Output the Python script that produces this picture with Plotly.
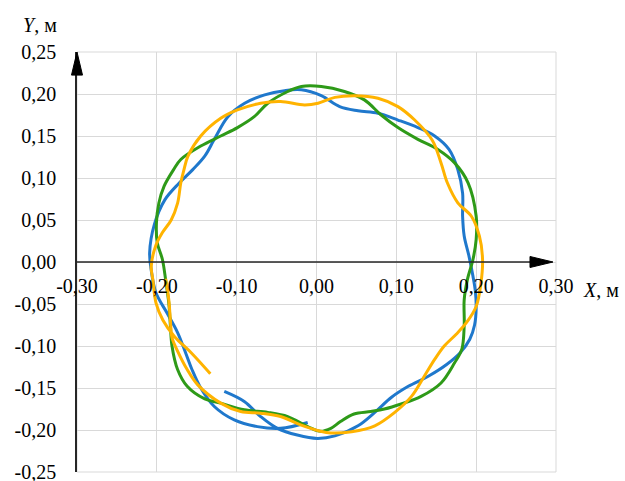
import plotly.graph_objects as go

# ---- data ----
blue_x = [-0.1155, -0.0905, -0.070, -0.049, -0.024, 0.001, 0.023, 0.052, 0.073, 0.094,
          0.115, 0.140, 0.163, 0.180, 0.192, 0.198, 0.200, 0.199, 0.196, 0.191,
          0.185, 0.183, 0.183, 0.177, 0.166, 0.148, 0.127, 0.102, 0.077, 0.052,
          0.029, 0.006, -0.019, -0.040, -0.065, -0.090, -0.111, -0.128, -0.140, -0.155,
          -0.172, -0.190, -0.203, -0.209, -0.207, -0.201, -0.187, -0.174, -0.164, -0.156,
          -0.145, -0.128, -0.103, -0.074, -0.045, -0.011]
blue_y = [-0.154, -0.166, -0.184, -0.198, -0.206, -0.210, -0.207, -0.195, -0.179, -0.161,
          -0.148, -0.136, -0.122, -0.108, -0.092, -0.075, -0.055, -0.035, -0.017, 0.007,
          0.031, 0.0545, 0.082, 0.110, 0.134, 0.150, 0.160, 0.169, 0.177, 0.180,
          0.185, 0.198, 0.205, 0.204, 0.199, 0.189, 0.173, 0.146, 0.126, 0.110,
          0.094, 0.074, 0.045, 0.011, -0.010, -0.037, -0.061, -0.084, -0.108, -0.128,
          -0.150, -0.172, -0.188, -0.196, -0.198, -0.191]

green_x = [-0.193, -0.189, -0.185, -0.183, -0.181, -0.174, -0.162, -0.140, -0.120, -0.0905,
           -0.061, -0.036, -0.011, 0.005, 0.018, 0.030, 0.047, 0.068, 0.085, 0.106,
           0.131, 0.156, 0.173, 0.182, 0.185, 0.185, 0.189, 0.196, 0.200, 0.200,
           0.190, 0.173, 0.152, 0.127, 0.102, 0.081, 0.060, 0.035, 0.006, -0.019,
           -0.036, -0.061, -0.078, -0.099, -0.120, -0.145, -0.170, -0.179, -0.191, -0.1975,
           -0.2005, -0.1995, -0.193]
green_y = [0.003, -0.021, -0.049, -0.076, -0.100, -0.128, -0.148, -0.163, -0.168, -0.176,
           -0.179, -0.184, -0.196, -0.2015, -0.198, -0.190, -0.181, -0.178, -0.175, -0.169,
           -0.160, -0.144, -0.120, -0.104, -0.076, -0.045, -0.021, 0.003, 0.027, 0.0545,
           0.094, 0.118, 0.134, 0.146, 0.160, 0.175, 0.193, 0.203, 0.209, 0.209,
           0.203, 0.189, 0.173, 0.160, 0.150, 0.138, 0.122, 0.110, 0.090, 0.070,
           0.0465, 0.023, 0.003]

orange_x = [-0.189, -0.185, -0.183, -0.181, -0.174, -0.162, -0.149, -0.120, -0.095, -0.070,
            -0.045, -0.020, 0.005, 0.018, 0.044, 0.073, 0.098, 0.119, 0.135, 0.148,
            0.160, 0.175, 0.188, 0.200, 0.206, 0.208, 0.204, 0.194, 0.177, 0.164,
            0.156, 0.145, 0.123, 0.102, 0.077, 0.048, 0.023, 0.002, -0.015, -0.045,
            -0.070, -0.099, -0.120, -0.145, -0.161, -0.166, -0.170, -0.174, -0.182, -0.193,
            -0.2015, -0.207, -0.205, -0.201, -0.1925, -0.178, -0.157, -0.133]
orange_y = [-0.020, -0.045, -0.070, -0.090, -0.106, -0.128, -0.146, -0.168, -0.178, -0.180,
            -0.184, -0.194, -0.2015, -0.2035, -0.202, -0.195, -0.179, -0.160, -0.136, -0.116,
            -0.100, -0.086, -0.072, -0.053, -0.025, 0.003, 0.031, 0.0545, 0.0705, 0.094,
            0.118, 0.145, 0.169, 0.185, 0.195, 0.198, 0.196, 0.189, 0.187, 0.191,
            0.189, 0.181, 0.171, 0.150, 0.126, 0.110, 0.094, 0.070, 0.050, 0.035,
            0.019, -0.005, -0.021, -0.049, -0.069, -0.0886, -0.108, -0.133]

x_ticks = [-0.30, -0.20, -0.10, 0.00, 0.10, 0.20, 0.30]
x_tick_text = ["-0,30", "-0,20", "-0,10", "0,00", "0,10", "0,20", "0,30"]
y_ticks = [0.25, 0.20, 0.15, 0.10, 0.05, 0.00, -0.05, -0.10, -0.15, -0.20, -0.25]
y_tick_text = ["0,25", "0,20", "0,15", "0,10", "0,05", "0,00", "-0,05", "-0,10", "-0,15", "-0,20", "-0,25"]

X_RANGE = [-0.30, 0.30]
Y_RANGE = [-0.25, 0.25]

FONT = "Liberation Serif, Times New Roman, serif"
AXIS_COLOR = "#262626"
GRID_COLOR = "#d9d9d9"

fig = go.Figure()
for xs, ys, col in [(blue_x, blue_y, "#1f78cc"),
                    (green_x, green_y, "#2e9a18"),
                    (orange_x, orange_y, "#ffb300")]:
    fig.add_trace(go.Scatter(x=xs, y=ys, mode="lines",
                             line=dict(color=col, width=3, shape="spline", smoothing=1.0),
                             hoverinfo="skip", showlegend=False))

# plot frame (top and right edges, light like the grid)
fig.add_shape(type="rect", xref="paper", yref="paper", x0=0, x1=1, y0=0, y1=1,
              line=dict(color=GRID_COLOR, width=1), layer="below")
# x axis line through y = 0
fig.add_shape(type="line", xref="paper", yref="paper", x0=0, x1=0.95, y0=0.5, y1=0.5,
              line=dict(color=AXIS_COLOR, width=1.5))
# arrow heads of the axes (in pixel-based paper fractions: plot is 479 x 420 px)
fig.add_shape(type="path", xref="paper", yref="paper",
              path="M 0,1 L -0.0115,0.945 L 0.0115,0.945 Z",
              fillcolor="black", line=dict(color="black", width=1))
fig.add_shape(type="path", xref="paper", yref="paper",
              path="M 0.9937,0.5 L 0.9457,0.5131 L 0.9457,0.4869 Z",
              fillcolor="black", line=dict(color="black", width=1))

fig.update_layout(
    width=625, height=481,
    margin=dict(l=77, r=69, t=52, b=9, autoexpand=False),
    paper_bgcolor="white", plot_bgcolor="white",
    font=dict(family=FONT, size=20, color="black"),
    showlegend=False,
    xaxis=dict(range=X_RANGE, tickvals=x_ticks, ticktext=x_tick_text,
               showgrid=True, gridcolor=GRID_COLOR, gridwidth=1,
               zeroline=False, showline=False, ticks="",
               anchor="free", position=0.5, ticklabelstandoff=10,
               ticklabeloverflow="allow", automargin=False),
    yaxis=dict(range=Y_RANGE, tickvals=y_ticks, ticktext=y_tick_text,
               showgrid=True, gridcolor=GRID_COLOR, gridwidth=1,
               zeroline=False, showline=True, linecolor=AXIS_COLOR, linewidth=1.5,
               ticks="", ticklabelstandoff=15, ticklabeloverflow="allow",
               automargin=False),
    annotations=[
        dict(text="<i>Y</i>, м", xref="paper", yref="paper", x=-0.077, y=1.064,
             xanchor="center", yanchor="middle",
             showarrow=False, font=dict(family=FONT, size=20)),
        dict(text="<i>X</i>, м", xref="paper", yref="paper", x=1.093, y=0.433,
             xanchor="center", yanchor="middle",
             showarrow=False, font=dict(family=FONT, size=20)),
    ],
)

fig.write_html("out.html")
